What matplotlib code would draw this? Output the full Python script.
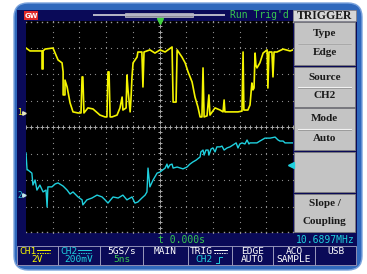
import numpy as np
import matplotlib.pyplot as plt
from matplotlib.patches import Rectangle, FancyBboxPatch

# waveform data, time and voltage both in screen divisions
ch1_t = [0.00, 0.15, 0.60, 0.60, 0.64, 0.64, 0.71, 1.01, 1.09, 1.20,
         1.35, 1.39, 1.39, 1.46, 1.46, 1.54, 1.65, 1.76, 1.95, 2.06,
         2.10, 2.13, 2.17, 2.32, 2.51, 2.77, 2.96, 3.03, 3.07, 3.11,
         3.15, 3.22, 3.41, 3.52, 3.60, 3.63, 3.75, 3.78, 3.82, 3.90,
         3.93, 3.97, 4.01, 4.16, 4.19, 4.34, 4.38, 4.42, 4.64, 4.83,
         5.02, 5.21, 5.47, 5.51, 5.62, 5.66, 5.84, 5.96, 6.07, 6.22,
         6.33, 6.44, 6.52, 6.59, 6.63, 6.67, 6.78, 6.85, 6.89, 7.08,
         7.27, 7.38, 7.42, 7.45, 7.64, 7.94, 8.09, 8.13, 8.16, 8.31,
         8.39, 8.46, 8.50, 8.54, 8.58, 8.61, 8.65, 8.76, 8.88, 9.03,
         9.06, 9.10, 9.21, 9.25, 9.29, 9.40, 9.63, 9.89, 10.0]
ch1_v = [2.98, 2.87, 2.87, 2.19, 2.19, 2.87, 2.94, 2.98, 2.79, 2.53,
         2.42, 2.08, 1.21, 1.21, 1.77, 1.51, 0.91, 0.57, 0.53, 0.53,
         1.89, 1.89, 0.53, 0.72, 0.68, 0.45, 0.38, 0.38, 2.08, 2.08,
         0.38, 0.38, 0.45, 0.72, 1.13, 0.64, 0.72, 1.96, 1.40, 0.57,
         1.02, 1.89, 2.42, 2.64, 2.83, 2.83, 1.51, 2.83, 2.91, 2.79,
         2.91, 2.83, 3.02, 0.94, 0.94, 2.91, 2.64, 2.42, 2.08, 1.70,
         1.13, 0.75, 0.38, 0.38, 2.23, 0.38, 0.42, 1.21, 0.45, 0.72,
         0.64, 0.57, 1.02, 0.57, 0.57, 0.57, 0.60, 2.83, 0.64, 0.64,
         0.83, 1.66, 1.40, 1.47, 2.79, 2.34, 2.23, 2.42, 2.79, 2.91,
         1.47, 2.83, 2.83, 1.89, 2.83, 2.83, 2.94, 2.87, 2.91]

ch2_t = [0.00, 0.04, 0.07, 0.22, 0.26, 0.34, 0.41, 0.52, 0.64, 0.75,
         0.79, 0.82, 0.97, 1.09, 1.20, 1.39, 1.54, 1.65, 1.76, 1.95,
         2.10, 2.13, 2.28, 2.47, 2.66, 2.85, 2.96, 3.07, 3.26, 3.45,
         3.63, 3.78, 3.97, 4.08, 4.19, 4.34, 4.46, 4.53, 4.57, 4.64,
         4.76, 4.91, 5.02, 5.21, 5.28, 5.32, 5.39, 5.47, 5.51, 5.66,
         5.88, 6.03, 6.14, 6.25, 6.37, 6.52, 6.55, 6.63, 6.67, 6.74,
         6.82, 6.85, 6.93, 7.00, 7.08, 7.15, 7.27, 7.34, 7.42, 7.53,
         7.64, 7.75, 7.87, 7.94, 8.01, 8.09, 8.20, 8.28, 8.35, 8.39,
         8.54, 8.65, 8.76, 8.95, 9.14, 9.33, 9.44, 9.51, 9.63, 9.70,
         9.78, 9.89, 10.0]
ch2_v = [-0.98, -1.62, -1.62, -1.74, -2.19, -2.00, -2.38, -2.19, -2.45, -2.38,
         -3.02, -2.26, -2.26, -2.15, -2.11, -2.23, -2.38, -2.53, -2.45, -2.64,
         -2.75, -2.94, -2.75, -2.68, -2.57, -2.64, -2.75, -2.87, -2.64, -2.68,
         -2.57, -2.75, -2.64, -2.87, -2.83, -2.68, -2.57, -2.45, -1.55, -2.26,
         -2.00, -1.74, -1.70, -1.55, -1.40, -1.55, -1.43, -1.40, -1.55, -1.51,
         -1.58, -1.51, -1.40, -1.32, -1.25, -1.13, -0.94, -0.87, -1.06, -0.87,
         -0.87, -1.06, -0.83, -0.79, -0.94, -0.75, -0.75, -0.72, -0.87, -0.79,
         -0.75, -0.68, -0.60, -0.79, -0.64, -0.60, -0.64, -0.49, -0.64, -0.60,
         -0.60, -0.60, -0.53, -0.42, -0.42, -0.38, -0.49, -0.53, -0.53, -0.60,
         -0.60, -0.60, -0.60]

ch1_offset = 0.53
ch2_offset = -2.57
trig_level = -1.43

menu_title = "TRIGGER"
menu_items = [("Type", "Edge"), ("Source", "CH2"), ("Mode", "Auto"), None, ("Slope /", "Coupling")]
bottom_top = ["CH1", "CH2", "5GS/s", "MAIN", "TRIG", "EDGE", "ACQ", "USB"]
bottom_low = ["2V", "200mV", "5ns", "", "CH2", "AUTO", "SAMPLE", ""]
status_time = "t 0.000s"
status_freq = "10.6897MHz"
run_state = "Run Trig'd"

YEL = "#f4f400"
CYA = "#1fd0de"
GRN = "#38c850"
NAVY = "#0a0a58"
MONO = "DejaVu Sans Mono"
SERIF = "Liberation Serif"

fig = plt.figure(figsize=(3.67, 2.74), dpi=100)
fig.patch.set_facecolor("white")
bg = fig.add_axes([0, 0, 1, 1])
bg.set_xlim(0, 367)
bg.set_ylim(274, 0)
bg.axis("off")

# outer frame and screen
bg.add_patch(FancyBboxPatch((14, 3), 348, 267, boxstyle="round,pad=0,rounding_size=14",
                            fc="#2f68bc", ec="#7aa2dc", lw=1.0))
bg.add_patch(Rectangle((17, 10), 340, 256, fc=NAVY, ec="none"))

# top bar
bg.add_patch(Rectangle((24, 11), 14, 9, fc="#e02828", ec="none"))
bg.text(31, 15.8, "GW", color="white", fontsize=5, fontweight="bold", ha="center", va="center")
bg.plot([93, 225], [15, 15], color="#b8b8c8", lw=1.4, solid_capstyle="butt")
bg.add_patch(Rectangle((125, 13), 68, 4, fc="#8c8c98", ec="#c8c8d0", lw=0.5))
bg.text(230, 15.5, run_state, color=GRN, fontsize=7, family=MONO, ha="left", va="center")

# right menu
bg.add_patch(Rectangle((293, 10), 63, 11, fc="#d6d6d6", ec="#909090", lw=0.5))
bg.text(324.5, 15.8, menu_title, color="#1a1a1a", fontsize=8.5, family=SERIF,
        fontweight="bold", ha="center", va="center")
box_rows = [(22, 65), (67, 107), (108, 150), (152, 192), (194, 232)]
for (y0, y1), item in zip(box_rows, menu_items):
    bg.add_patch(Rectangle((294, y0), 61, y1 - y0, fc="#c4c4c4", ec="#7c7c7c", lw=0.6))
    if item is None:
        continue
    top, low = item
    yt = y0 + (y1 - y0) * 0.26
    yl = y0 + (y1 - y0) * 0.72
    if top != "Slope /":
        ym = (y0 + y1) / 2
        bg.plot([298, 351], [ym, ym], color="#f2f2f2", lw=0.8)
        bg.plot([298, 351], [ym + 0.8, ym + 0.8], color="#8a8a8a", lw=0.5)
    for y, s in ((yt, top), (yl, low)):
        bg.text(324.5, y, s, color="#1a1a1a", fontsize=8, family=SERIF,
                fontweight="bold", ha="center", va="center")

# status line
bg.text(182, 240, status_time, color=GRN, fontsize=7, family=MONO, ha="center", va="center")
bg.text(355, 240, status_freq, color=CYA, fontsize=7, family=MONO, ha="right", va="center")

# bottom bar
edges = [17, 58, 100, 143, 188, 232, 273, 315, 356]
top_cols = [YEL, CYA, "white", "white", "white", "white", "white", "white"]
low_cols = [YEL, CYA, GRN, "white", CYA, "white", "white", "white"]
for i in range(8):
    x0, x1 = edges[i], edges[i + 1]
    bg.add_patch(Rectangle((x0, 246), x1 - x0, 19, fc=NAVY, ec="#a4a4c4", lw=0.6))
    xc = (x0 + x1) / 2
    if bottom_top[i] in ("CH1", "CH2", "TRIG"):
        bg.text(x0 + 2, 251.5, bottom_top[i], color=top_cols[i], fontsize=6.8,
                family=MONO, ha="left", va="center")
        sx = x0 + 3 + len(bottom_top[i]) * 5.8
        bg.plot([sx, sx + 13], [250, 250], color=top_cols[i], lw=0.7)
        bg.plot([sx, sx + 13], [252.5, 252.5], color=top_cols[i], lw=0.7, ls=(0, (1.5, 1)))
    else:
        bg.text(xc, 251.5, bottom_top[i], color=top_cols[i], fontsize=6.8,
                family=MONO, ha="center", va="center")
    if bottom_top[i] == "TRIG":
        bg.text(xc - 6, 260, bottom_low[i], color=low_cols[i], fontsize=6.8,
                family=MONO, ha="center", va="center")
        bg.plot([xc + 6, xc + 9, xc + 9, xc + 12], [263, 263, 257, 257], color=CYA, lw=0.7)
    else:
        bg.text(xc, 260, bottom_low[i], color=low_cols[i], fontsize=6.8,
                family=MONO, ha="center", va="center")

# scope screen
ax = fig.add_axes([26 / 367, 1 - 233 / 274, 267 / 367, 212 / 274])
ax.set_facecolor("black")
ax.set_xlim(0, 10)
ax.set_ylim(-4, 4)
ax.set_xticks([])
ax.set_yticks([])
for s in ax.spines.values():
    s.set_visible(False)

fy = np.arange(-4, 4.01, 0.2)
fx = np.arange(0, 10.01, 0.2)
for gx in range(1, 10):
    if gx == 5:
        continue
    ax.plot(np.full(fy.size, gx), fy, ls="none", marker="s", ms=0.8, mew=0, color="#8a8a8a")
for gy in (-3, -2, -1, 1, 2, 3):
    ax.plot(fx, np.full(fx.size, gy), ls="none", marker="s", ms=0.8, mew=0, color="#8a8a8a")
for gy in (-3.97, 3.97):
    ax.plot(fx, np.full(fx.size, gy), ls="none", marker="s", ms=1.0, mew=0, color="#9a9a9a")
ax.plot(fx, np.zeros(fx.size), ls="none", marker="+", ms=2.6, mew=0.7, color="#a8a8a8")
ax.plot(np.full(fy.size, 5), fy, ls="none", marker="+", ms=2.6, mew=0.7, color="#a8a8a8")

ax.plot(ch1_t, ch1_v, color=YEL, lw=1.2)
ax.plot(ch2_t, ch2_v, color=CYA, lw=1.0)

# markers
ax.plot(9.92, trig_level, marker="<", ms=4.5, color=CYA, clip_on=False)
ax.plot(5, 4.0, marker="v", ms=4, color="#40d040", clip_on=False)
ax.text(-0.24, ch1_offset, "1", color=YEL, fontsize=5.5, family=MONO,
        ha="center", va="center", clip_on=False)
ax.plot(-0.08, ch1_offset, marker=">", ms=2.5, color="#e8e8c0", clip_on=False)
ax.text(-0.24, ch2_offset, "2", color=CYA, fontsize=5.5, family=MONO,
        ha="center", va="center", clip_on=False)
ax.plot(-0.08, ch2_offset, marker=">", ms=2.5, color="#c0e8e8", clip_on=False)

fig.savefig("out.png", dpi=100, facecolor="white")
